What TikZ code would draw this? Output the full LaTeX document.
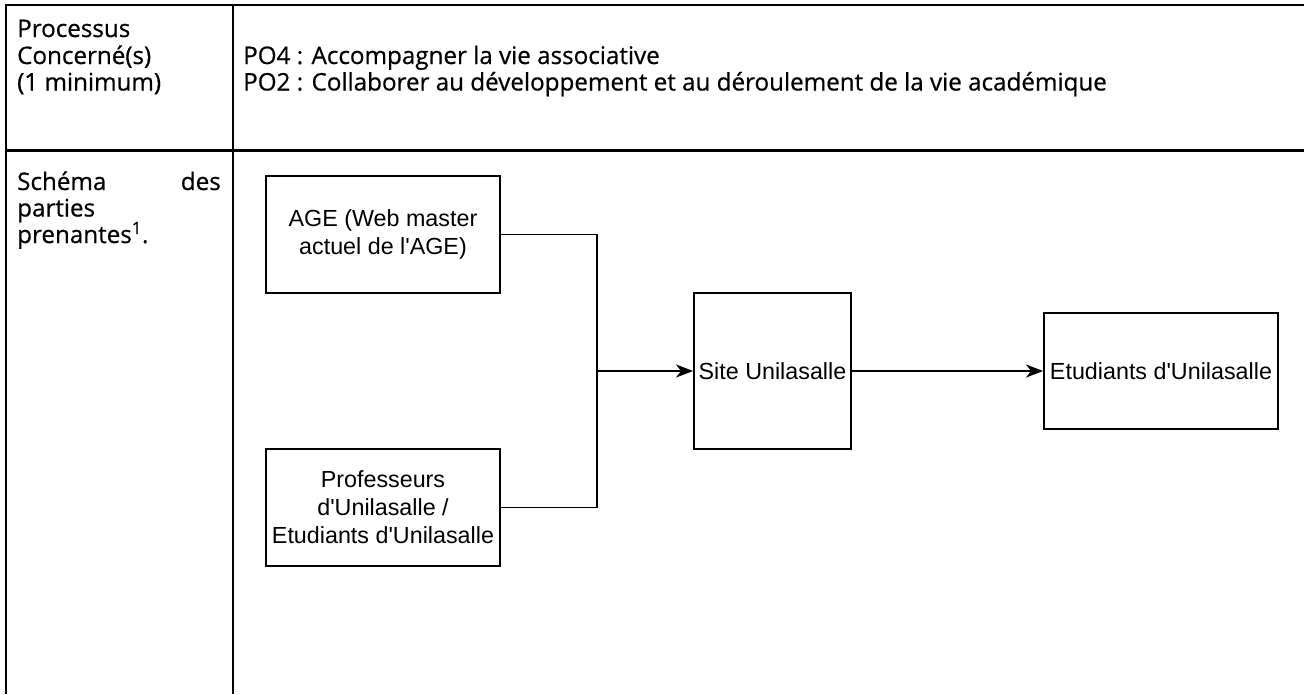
\documentclass[tikz,border=0pt]{standalone}
\usepackage{fontspec}
\setmainfont{Open Sans}[FakeBold=0.6]
\newfontfamily\arialf{Liberation Sans}[Ligatures=TeXOff]
\usetikzlibrary{arrows.meta}
\begin{document}
\begin{tikzpicture}[x=1pt,y=-1pt,
  tline/.style={line width=2.6pt},
  cell/.style={inner sep=0pt, anchor=base west, font=\fontsize{24.2}{27}\selectfont},
  cellr/.style={cell, anchor=base east},
  box/.style={draw, line width=1.9pt, inner sep=0pt, align=center, font=\arialf\fontsize{23.3}{28}\selectfont},
  conn/.style={line width=1.9pt},
  arr/.style={conn, -{Stealth[length=17pt,width=13pt,inset=5pt]}}
]
\useasboundingbox (0,0) rectangle (1304,694);
\fill[white] (0,0) rectangle (1304,694);
% table
\draw[tline] (5,5) -- (1304,5);
\draw[tline] (5,150.5) -- (1304,150.5);
\draw[tline] (6,4) -- (6,694);
\draw[tline] (233,4) -- (233,694);
% cells
\node[cell] (p1) at (17,37) {Processus};
\node[cell] (p2) at (17,64) {Concerné(s)};
\node[cell] (p3) at (17,90.5) {(1 minimum)};
\node[cell] (po4) at (243,64) {PO4 : Accompagner la vie associative};
\node[cell] (po2) at (243,90.5) {PO2 : Collaborer au développement et au déroulement de la vie académique};
\node[cell] (s1) at (17,190) {Schéma};
\node[cellr] (s2) at (221,190) {des};
\node[cell] (s3) at (17,216.5) {parties};
\node[cell] (s4) at (17,243) {prenantes\textsuperscript{1}.};
% diagram
\node[box, minimum width=234pt, minimum height=117pt] (age) at (383,234.5) {AGE (Web master\\actuel de l'AGE)};
\node[box, minimum width=234pt, minimum height=117pt] (prof) at (383,507.5) {Professeurs\\d'Unilasalle /\\Etudiants d'Unilasalle};
\node[box, minimum width=157pt, minimum height=156pt] (site) at (772.5,371) {Site Unilasalle};
\node[box, minimum width=234pt, minimum height=116pt] (etu) at (1161,371) {Etudiants d'Unilasalle};
\coordinate (j) at (597,371);
\draw[conn] (age.east) -| (j);
\draw[conn] (prof.east) -| (j);
\draw[arr] (j) -- (site.west);
\draw[arr] (site.east) -- (etu.west);
\end{tikzpicture}
\end{document}
